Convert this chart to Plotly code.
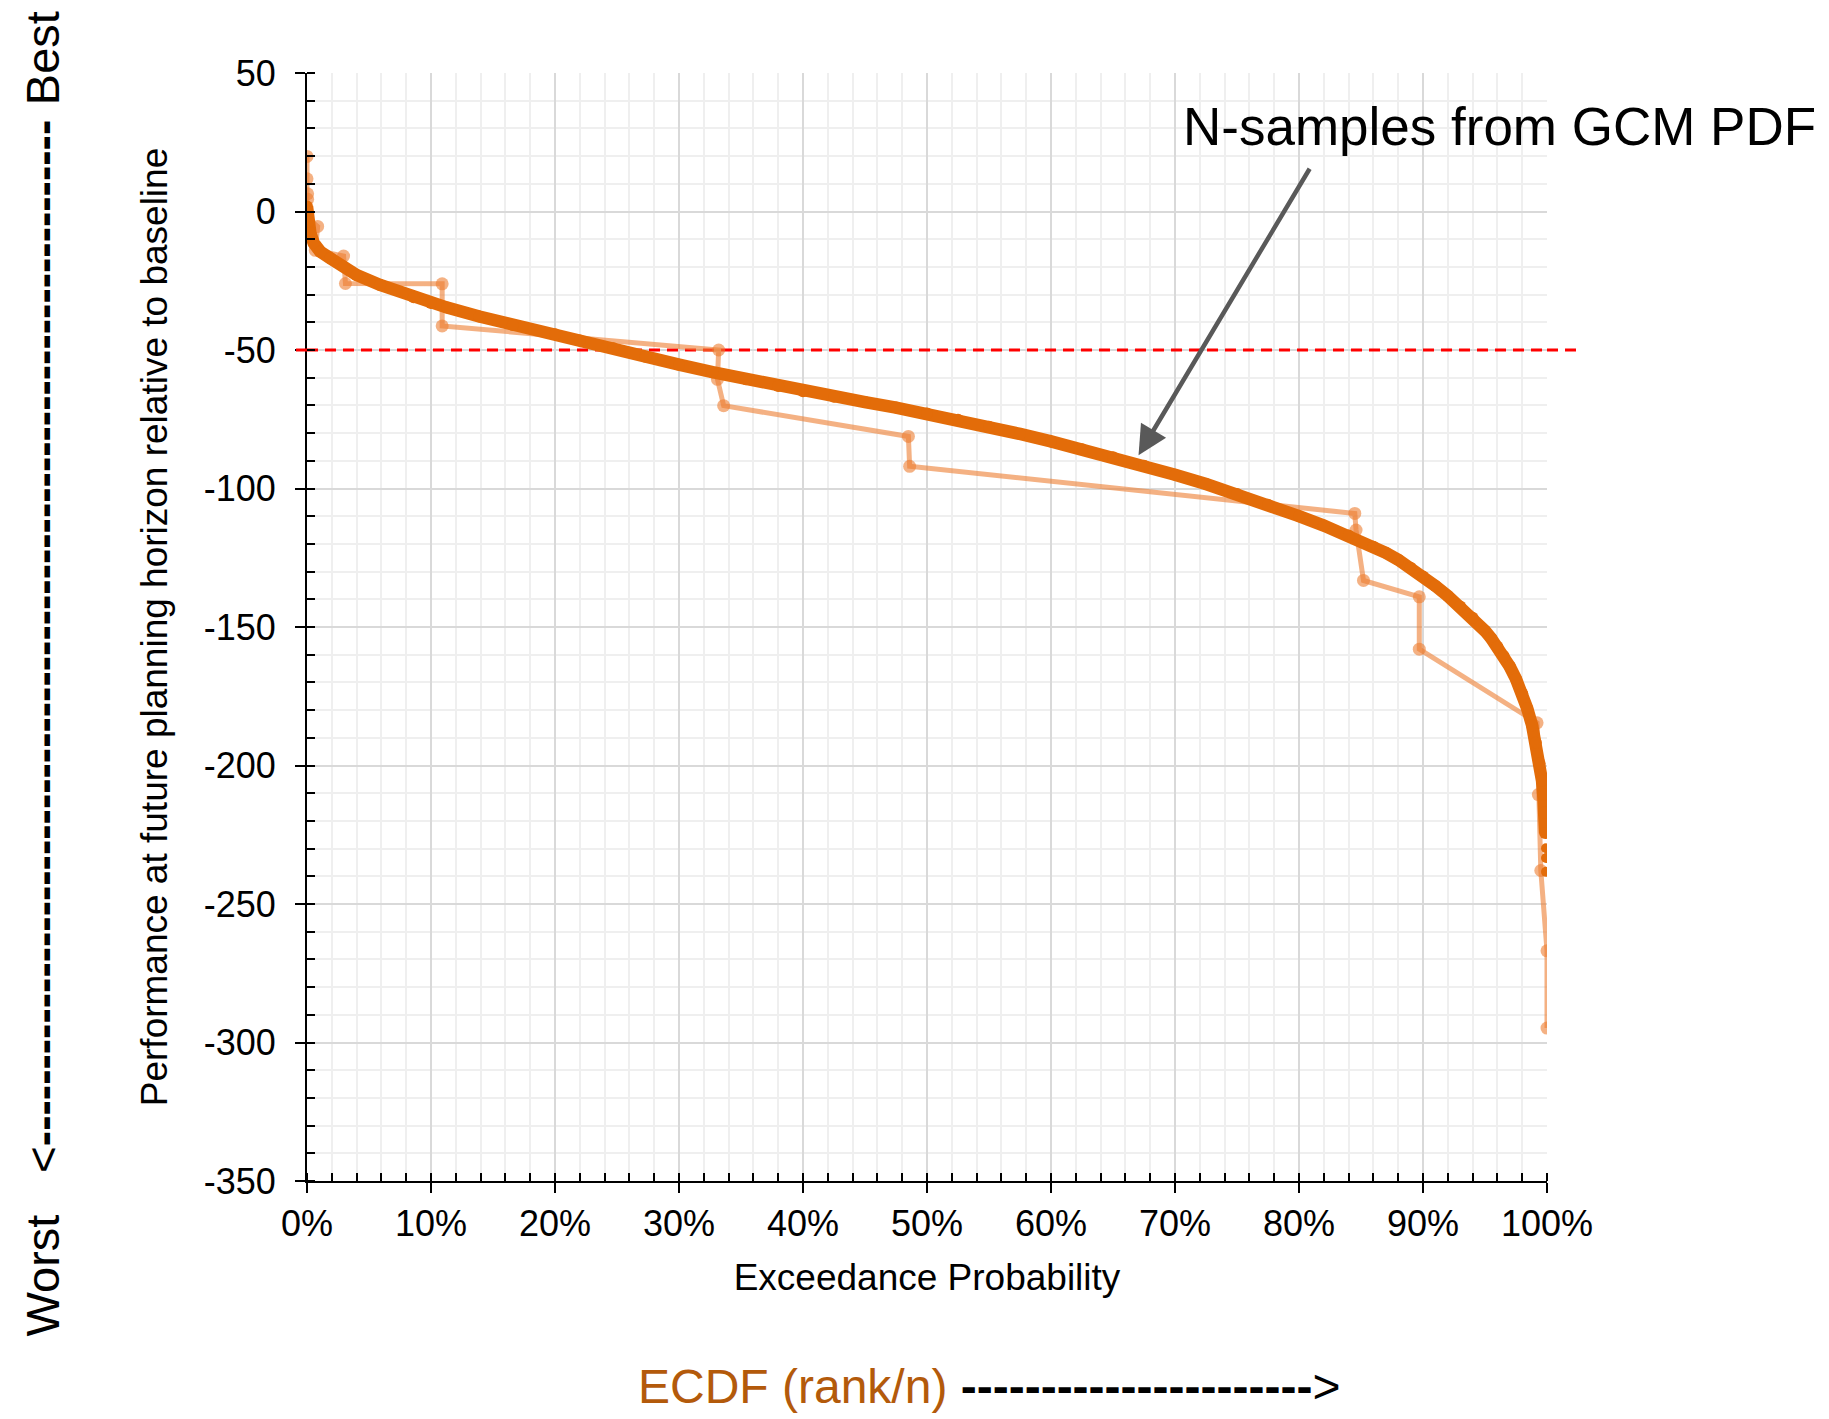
import plotly.graph_objects as go

# ---------------- data ----------------
# Large-sample ECDF curve: exceedance probability (fraction) vs performance
ecdf_prob = [0.0, 0.0005, 0.0013, 0.0027, 0.0054, 0.0107, 0.0188, 0.0295, 0.040,
             0.059, 0.086, 0.100, 0.113, 0.139, 0.166, 0.200, 0.220, 0.247, 0.273,
             0.300, 0.327, 0.354, 0.380, 0.400, 0.425, 0.450, 0.475, 0.500, 0.525,
             0.550, 0.575, 0.600, 0.625, 0.650, 0.675, 0.700, 0.725, 0.750, 0.775,
             0.800, 0.820, 0.840, 0.860, 0.870, 0.880, 0.890, 0.900, 0.910, 0.920,
             0.930, 0.940, 0.950, 0.955, 0.960, 0.965, 0.970, 0.975, 0.980, 0.984,
             0.988, 0.991, 0.994, 0.996, 0.997, 0.998, 0.9985]
ecdf_perf = [1.8, -1.0, -3.6, -7.8, -11.4, -14.5, -16.9, -19.9, -22.9,
             -26.5, -31.0, -33.0, -34.7, -37.9, -41.0, -44.3, -46.6, -49.4, -52.4,
             -55.3, -58.0, -60.6, -63.0, -64.9, -66.9, -68.8, -70.8, -72.9, -75.2,
             -77.7, -80.3, -83.0, -85.8, -88.7, -91.8, -95.0, -98.4, -102.0, -105.9,
             -110.0, -113.4, -117.0, -121.0, -123.2, -125.7, -128.6, -131.8, -135.2, -138.8,
             -142.6, -146.7, -151.4, -154.1, -157.1, -160.5, -164.3, -168.8, -174.0, -179.3,
             -185.5, -191.8, -199.3, -205.5, -210.5, -217.0, -224.4]
# last isolated samples of the large ECDF
tail_prob = [0.9992, 0.9992, 0.9992]
tail_perf = [-229.9, -233.4, -238.4]

# Small set of N samples from the GCM PDF
sample_prob = [0.0, 0.0, 0.0005, 0.0005, 0.0, 0.0086, 0.0067, 0.0295, 0.031, 0.109,
               0.109, 0.332, 0.331, 0.336, 0.485, 0.486, 0.845, 0.846, 0.852, 0.897,
               0.897, 0.992, 0.993, 0.995, 1.0, 1.0]
sample_perf = [19.9, 11.8, 6.4, 4.4, -2.2, -5.4, -14.0, -16.1, -26.0, -26.1,
               -41.3, -50.0, -60.6, -70.1, -81.2, -92.0, -109.0, -115.0, -133.2, -139.1,
               -158.0, -184.6, -210.5, -237.9, -266.9, -294.8]

threshold = -50
y_range = [-350, 50]
x_range = [0, 1]
y_tick_vals = [50, 0, -50, -100, -150, -200, -250, -300, -350]
y_tick_text = ["50", "0", "-50", "-100", "-150", "-200", "-250", "-300", "-350"]

# ---------------- layout constants ----------------
W, H = 1829, 1419
L, R, T, B = 307, 282, 73, 238
PW, PH = W - L - R, H - T - B
FONT = "Liberation Sans, Arial, sans-serif"
MAIN = "#E36C09"
LIGHT = "rgba(237,125,49,0.6)"


def px_x(x):
    return (x - L) / PW


def px_y(y):
    return (T + PH - y) / PH


fig = go.Figure()

fig.add_trace(go.Scatter(
    x=sample_prob, y=sample_perf, mode="lines+markers",
    line=dict(color=LIGHT, width=5),
    marker=dict(color=LIGHT, size=13),
    showlegend=False, hoverinfo="skip"))

fig.add_trace(go.Scatter(
    x=ecdf_prob, y=ecdf_perf, mode="lines+markers",
    line=dict(color=MAIN, width=12.5),
    marker=dict(color=MAIN, size=12),
    showlegend=False, hoverinfo="skip"))

fig.add_trace(go.Scatter(
    x=tail_prob, y=tail_perf, mode="markers",
    marker=dict(color=MAIN, size=10),
    xaxis="x2", yaxis="y2",
    showlegend=False, hoverinfo="skip"))

axis_common = dict(
    showline=True, linecolor="black", linewidth=2,
    ticks="outside", ticklen=10, tickwidth=2, tickcolor="black",
    showgrid=True, gridcolor="#D9D9D9", gridwidth=2,
    zeroline=False, automargin=False,
    tickfont=dict(family=FONT, size=36, color="black"),
)

fig.update_layout(
    width=W, height=H,
    margin=dict(l=L, r=R, t=T, b=B, pad=0),
    paper_bgcolor="white", plot_bgcolor="white",
    template="none",
    font=dict(family=FONT, color="black"),
    xaxis=dict(
        range=x_range, tick0=0, dtick=0.1, tickformat=".0%",
        minor=dict(dtick=0.02, showgrid=True, gridcolor="#EFEFEF", gridwidth=1.5,
                   ticks="inside", ticklen=8, tickwidth=1.5, tickcolor="black"),
        title=dict(text="Exceedance Probability",
                   font=dict(family=FONT, size=37, color="black"), standoff=21),
        **axis_common),
    yaxis=dict(
        range=y_range, tickmode="array", tickvals=y_tick_vals, ticktext=y_tick_text,
        ticklabelstandoff=12,
        minor=dict(tick0=0, dtick=10, showgrid=True, gridcolor="#EFEFEF", gridwidth=1.5,
                   ticks="inside", ticklen=8, tickwidth=1.5, tickcolor="black"),
        title=dict(text="Performance at future planning horizon relative to baseline",
                   font=dict(family=FONT, size=37, color="black"), standoff=25),
        **axis_common),
    xaxis2=dict(range=x_range, overlaying="x", anchor="y2", side="bottom",
                tick0=0, dtick=0.1, ticks="inside", ticklen=8, tickwidth=2,
                tickcolor="black", showticklabels=False, showgrid=False,
                showline=False, zeroline=False),
    yaxis2=dict(range=y_range, overlaying="y", anchor="x2", side="left",
                tick0=0, dtick=50, ticks="inside", ticklen=8, tickwidth=2,
                tickcolor="black", showticklabels=False, showgrid=False,
                showline=False, zeroline=False),
)

# threshold line (inside plot: between grid and traces; stubs outside: above)
fig.add_shape(type="line", xref="x", yref="y", x0=x_range[0], x1=x_range[1],
              y0=threshold, y1=threshold, layer="between",
              line=dict(color="#FF0000", width=3, dash="11px,7px"))
fig.add_shape(type="line", xref="paper", yref="y", x0=px_x(296), x1=0,
              y0=threshold, y1=threshold, layer="above",
              line=dict(color="#FF0000", width=3))
fig.add_shape(type="line", xref="paper", yref="y", x0=1, x1=px_x(1577),
              y0=threshold, y1=threshold, layer="above",
              line=dict(color="#FF0000", width=3, dash="11px,7px"))

C = dict(xanchor="center", yanchor="middle", showarrow=False)
annotations = [
    dict(text="N-samples from GCM PDF", xref="paper", yref="paper",
         x=px_x(1499), y=px_y(126),
         font=dict(family=FONT, size=53, color="black"), **C),
    dict(text="", xref="x", yref="y", x=0.6706, y=-88.0,
         ax=172, ay=-288, showarrow=True, arrowhead=2, arrowsize=1.3,
         arrowwidth=4.5, arrowcolor="#595959", standoff=0),
    dict(text="Best", xref="paper", yref="paper", x=px_x(42.5), y=px_y(58.7),
         textangle=-90, font=dict(family=FONT, size=47, color="black"), **C),
    dict(text="&lt;<b>" + "-" * 67 + "</b>", xref="paper", yref="paper",
         x=px_x(42.5), y=px_y(646.5), textangle=-90,
         font=dict(family=FONT, size=46, color="black"), **C),
    dict(text="Worst", xref="paper", yref="paper", x=px_x(42.5), y=px_y(1276),
         textangle=-90, font=dict(family=FONT, size=47, color="black"), **C),
    dict(text="<span style='color:#B35A0B'>ECDF (rank/n)</span> <b>" + "-" * 22 + "</b>&gt;",
         xref="paper", yref="paper", x=px_x(989), y=px_y(1386),
         font=dict(family=FONT, size=48, color="black"), **C),
]
fig.update_layout(annotations=annotations)

fig.write_html("out.html")
